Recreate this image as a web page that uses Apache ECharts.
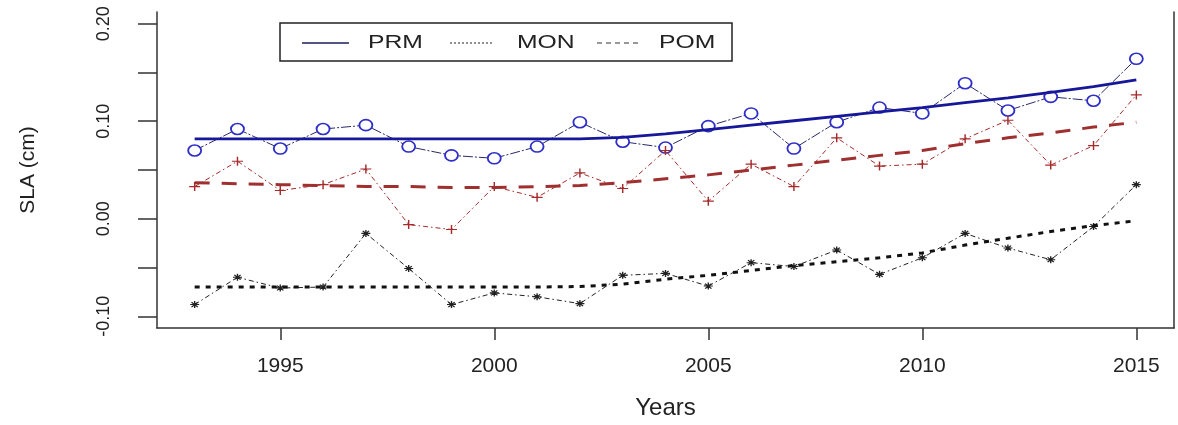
<!DOCTYPE html>
<html>
<head>
<meta charset="utf-8">
<script src="https://cdn.jsdelivr.net/npm/echarts@6/dist/echarts.min.js"></script>
<style>
html,body{margin:0;padding:0;background:#fff;}
#chart{width:1178px;height:425px;}
</style>
</head>
<body>
<div id="chart"></div>
<script>
// ---------- data ----------
const years = [1993,1994,1995,1996,1997,1998,1999,2000,2001,2002,2003,2004,2005,2006,2007,2008,2009,2010,2011,2012,2013,2014,2015];
const seriesNames = ['PRM','MON','POM'];
const prm = [0.070,0.092,0.072,0.092,0.096,0.074,0.065,0.062,0.074,0.099,0.079,0.073,0.095,0.108,0.072,0.099,0.114,0.108,0.139,0.111,0.125,0.121,0.164];
const mon = [-0.088,-0.060,-0.071,-0.070,-0.015,-0.051,-0.088,-0.076,-0.080,-0.087,-0.058,-0.056,-0.069,-0.045,-0.049,-0.032,-0.057,-0.040,-0.015,-0.030,-0.042,-0.008,0.035];
const pom = [0.033,0.059,0.029,0.035,0.051,-0.006,-0.011,0.033,0.022,0.047,0.031,0.070,0.018,0.056,0.033,0.083,0.054,0.056,0.082,0.101,0.055,0.075,0.127];
const prmTrend = [0.082,0.082,0.082,0.082,0.082,0.082,0.082,0.082,0.082,0.082,0.0835,0.0870,0.0915,0.0960,0.1005,0.1050,0.1095,0.1140,0.1190,0.1240,0.1295,0.1355,0.1425];
const monTrend = [-0.070,-0.070,-0.070,-0.070,-0.070,-0.070,-0.070,-0.070,-0.070,-0.0695,-0.067,-0.062,-0.058,-0.053,-0.048,-0.044,-0.040,-0.035,-0.027,-0.020,-0.013,-0.007,-0.002];
const pomTrend = [0.037,0.036,0.035,0.034,0.033,0.033,0.032,0.032,0.033,0.034,0.037,0.041,0.045,0.050,0.055,0.060,0.065,0.070,0.077,0.083,0.088,0.094,0.099];
const xTicks = [1995,2000,2005,2010,2015];
const yTicks = [-0.10,-0.05,0.00,0.05,0.10,0.15,0.20];
const yLabels = [-0.10,0.00,0.10,0.20];

// ---------- chart ----------
const FONT = '"Liberation Sans", Arial, sans-serif';
const AXIS = '#333';
const pair = arr => years.map((y, i) => [y, arr[i]]);
const PLUS = 'path://M5,0L5,10M0,5L10,5';
const STAR = 'path://M5,0L5,10M0,5L10,5M1.5,1.5L8.5,8.5M8.5,1.5L1.5,8.5';

const chart = echarts.init(document.getElementById('chart'), null, {renderer: 'canvas'});
chart.setOption({
  animation: false,
  backgroundColor: '#fff',
  grid: {left: 157, right: 4, top: 12, bottom: 94, containLabel: false},
  xAxis: {
    type: 'value', min: 1992.12, max: 2015.88,
    axisLine: {show: true, onZero: false, lineStyle: {color: AXIS, width: 1.5}},
    axisTick: {show: true, customValues: xTicks, length: 12, lineStyle: {color: AXIS, width: 1.5}},
    axisLabel: {customValues: xTicks, margin: 28, fontSize: 21, color: '#222', fontFamily: FONT,
      formatter: v => String(Math.round(v))},
    splitLine: {show: false},
    name: 'Years', nameLocation: 'middle', nameGap: 68,
    nameTextStyle: {fontSize: 24, color: '#222', fontFamily: FONT}
  },
  yAxis: [{
    type: 'value', min: -0.112, max: 0.212,
    axisLine: {show: true, onZero: false, lineStyle: {color: AXIS, width: 1.5}},
    axisTick: {show: true, customValues: yTicks, length: 19, lineStyle: {color: AXIS, width: 1.5}},
    axisLabel: {customValues: yLabels, rotate: 90, margin: 44, fontSize: 18, color: '#222', fontFamily: FONT,
      formatter: v => Number(v).toFixed(2)},
    splitLine: {show: false},
    name: 'SLA (cm)', nameLocation: 'middle', nameRotate: 90, nameGap: 118,
    nameTextStyle: {fontSize: 21, color: '#222', fontFamily: FONT}
  }, {
    type: 'value', position: 'right', min: -0.112, max: 0.212,
    axisLine: {show: true, onZero: false, lineStyle: {color: AXIS, width: 1.5}},
    axisTick: {show: false}, axisLabel: {show: false}, splitLine: {show: false}
  }],
  series: [
    {
      name: seriesNames[0] + ' data', type: 'line', z: 2, data: pair(prm),
      symbol: 'circle', symbolSize: [13, 11],
      itemStyle: {color: '#ffffff', borderColor: '#2e2ec8', borderWidth: 1.7},
      lineStyle: {color: '#2a2a6a', width: 1, type: [10, 2, 2, 2]}
    },
    {
      name: seriesNames[1] + ' data', type: 'line', z: 3, data: pair(mon),
      symbol: STAR, symbolSize: [9, 7],
      itemStyle: {color: 'rgba(0,0,0,0)', borderColor: '#222', borderWidth: 1.2},
      lineStyle: {color: '#222', width: 1, type: [5, 3, 1.5, 3]}
    },
    {
      name: seriesNames[2] + ' data', type: 'line', z: 3, data: pair(pom),
      symbol: PLUS, symbolSize: [11, 9],
      itemStyle: {color: 'rgba(0,0,0,0)', borderColor: '#a52a2a', borderWidth: 1.3},
      lineStyle: {color: '#a52a2a', width: 1, type: [5, 3, 1.5, 3]}
    },
    {
      name: seriesNames[0], type: 'line', z: 5, data: pair(prmTrend), symbol: 'none',
      lineStyle: {color: '#17179a', width: 2.8, type: 'solid'}
    },
    {
      name: seriesNames[1], type: 'line', z: 5, data: pair(monTrend), symbol: 'none',
      lineStyle: {color: '#111', width: 3, type: [5, 6], cap: 'butt'}
    },
    {
      name: seriesNames[2], type: 'line', z: 5, data: pair(pomTrend), symbol: 'none',
      lineStyle: {color: '#a03030', width: 3, type: [15, 12], cap: 'butt'}
    }
  ],
  graphic: [
    {type: 'rect', z: 10, shape: {x: 280, y: 23, width: 452, height: 38},
      style: {fill: '#fff', stroke: '#222', lineWidth: 1.5}},
    {type: 'line', z: 11, shape: {x1: 302, y1: 43, x2: 349, y2: 43},
      style: {stroke: '#1c1c5c', lineWidth: 1.3}},
    {type: 'line', z: 11, shape: {x1: 450, y1: 43, x2: 493, y2: 43},
      style: {stroke: '#222', lineWidth: 1.2, lineDash: [2, 2]}},
    {type: 'line', z: 11, shape: {x1: 597, y1: 43, x2: 640, y2: 43},
      style: {stroke: '#333', lineWidth: 1.2, lineDash: [5, 4]}},
    {type: 'text', z: 11, x: 368, y: 43, scaleX: 1.3,
      style: {text: seriesNames[0], fontSize: 19, fontFamily: FONT, fill: '#222', align: 'left', verticalAlign: 'middle'}},
    {type: 'text', z: 11, x: 517, y: 43, scaleX: 1.3,
      style: {text: seriesNames[1], fontSize: 19, fontFamily: FONT, fill: '#222', align: 'left', verticalAlign: 'middle'}},
    {type: 'text', z: 11, x: 659, y: 43, scaleX: 1.3,
      style: {text: seriesNames[2], fontSize: 19, fontFamily: FONT, fill: '#222', align: 'left', verticalAlign: 'middle'}}
  ]
});
</script>
</body>
</html>
